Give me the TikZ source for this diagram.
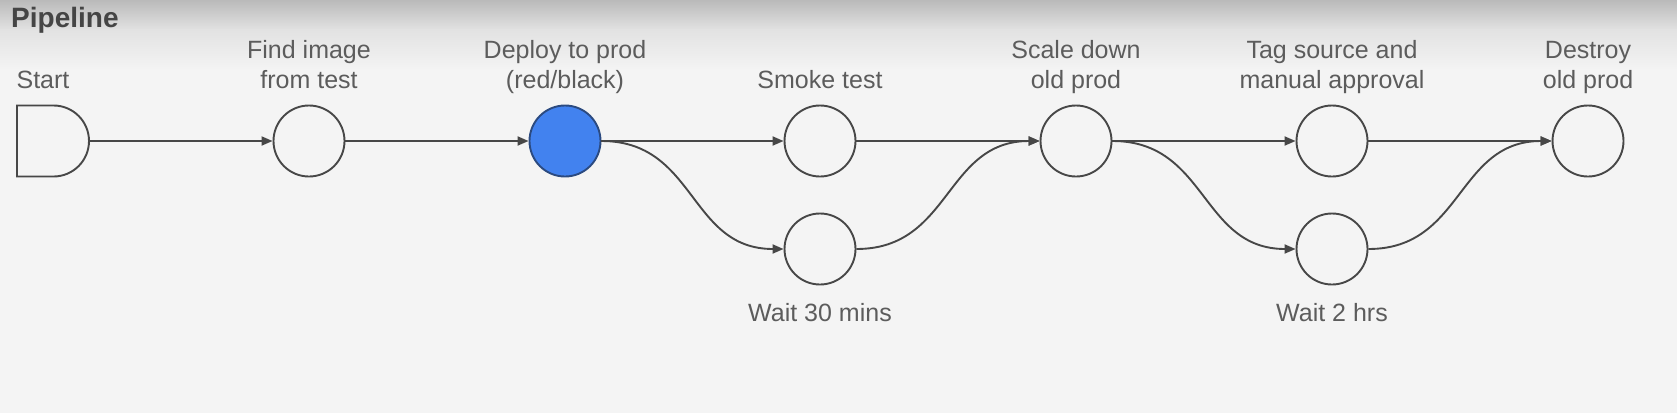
\documentclass[tikz,border=0pt]{standalone}
\usepackage{fontspec}
\setmainfont{Liberation Sans}
\usetikzlibrary{arrows.meta,shapes.misc}
\definecolor{bg}{HTML}{F4F4F4}
\definecolor{topshade}{HTML}{BABABA}
\definecolor{midshade}{HTML}{E2E2E2}
\definecolor{linec}{HTML}{474747}
\definecolor{textc}{HTML}{5C5C5C}
\definecolor{titlec}{HTML}{454545}
\definecolor{bluefill}{HTML}{4282EF}
\definecolor{blueedge}{HTML}{2B4A80}
\tikzset{
  stage/.style={circle, draw=linec, line width=1.9pt, fill=bg, minimum size=71pt, inner sep=0pt},
  active/.style={stage, fill=bluefill, draw=blueedge},
  startbox/.style={rounded rectangle, rounded rectangle left arc=none, draw=linec, line width=1.9pt, fill=bg, minimum width=72pt, minimum height=71pt, inner sep=0pt},
  lbl/.style={anchor=base, inner sep=0pt, text=textc, font=\fontsize{25}{30}\selectfont},
  arr/.style={draw=linec, line width=1.9pt, -{Triangle[length=11pt,width=9pt]}},
}
\newcommand{\twolines}[2]{\begin{tabular}[b]{@{}c@{}}#1\\#2\end{tabular}}
\begin{document}
\begin{tikzpicture}[x=1pt,y=-1pt]
\useasboundingbox (0,0) rectangle (1677,413);
\fill[bg] (0,0) rectangle (1677,413);
\shade[top color=topshade, bottom color=midshade] (0,0) rectangle (1677,30);
\shade[top color=midshade, bottom color=bg] (0,29.5) rectangle (1677,70);
\node[anchor=base west, inner sep=0pt, text=titlec, font=\fontsize{28}{33}\selectfont\bfseries] (title) at (11,27) {Pipeline};

% stages
\node[startbox] (start) at (53,141) {};
\node[stage] (find) at (309,141) {};
\node[active] (deploy) at (565,141) {};
\node[stage] (smoke) at (820,141) {};
\node[stage] (wait30) at (820,249) {};
\node[stage] (scale) at (1076,141) {};
\node[stage] (tag) at (1332,141) {};
\node[stage] (wait2) at (1332,249) {};
\node[stage] (destroy) at (1588,141) {};

% labels
\node[lbl] (lstart) at (43,88) {Start};
\node[lbl] (lfind) at (309,88) {\twolines{Find image}{from test}};
\node[lbl] (ldeploy) at (565,88) {\twolines{Deploy to prod}{(red/black)}};
\node[lbl] (lsmoke) at (820,88) {Smoke test};
\node[lbl] (lscale) at (1076,88) {\twolines{Scale down}{old prod}};
\node[lbl] (ltag) at (1332,88) {\twolines{Tag source and}{manual approval}};
\node[lbl] (ldestroy) at (1588,88) {\twolines{Destroy}{old prod}};
\node[lbl] (lwait30) at (820,321) {Wait 30 mins};
\node[lbl] (lwait2) at (1332,321) {Wait 2 hrs};

% connectors
\draw[arr] (start.east) -- (find.west);
\draw[arr] (find.east) -- (deploy.west);
\draw[arr] (deploy.east) -- (smoke.west);
\draw[arr] (deploy.east) .. controls +(95,0) and +(-95,0) .. (wait30.west);
\draw[arr] (smoke.east) -- (scale.west);
\draw[arr] (wait30.east) .. controls +(95,0) and +(-95,0) .. (scale.west);
\draw[arr] (scale.east) -- (tag.west);
\draw[arr] (scale.east) .. controls +(95,0) and +(-95,0) .. (wait2.west);
\draw[arr] (tag.east) -- (destroy.west);
\draw[arr] (wait2.east) .. controls +(95,0) and +(-95,0) .. (destroy.west);
\end{tikzpicture}
\end{document}
